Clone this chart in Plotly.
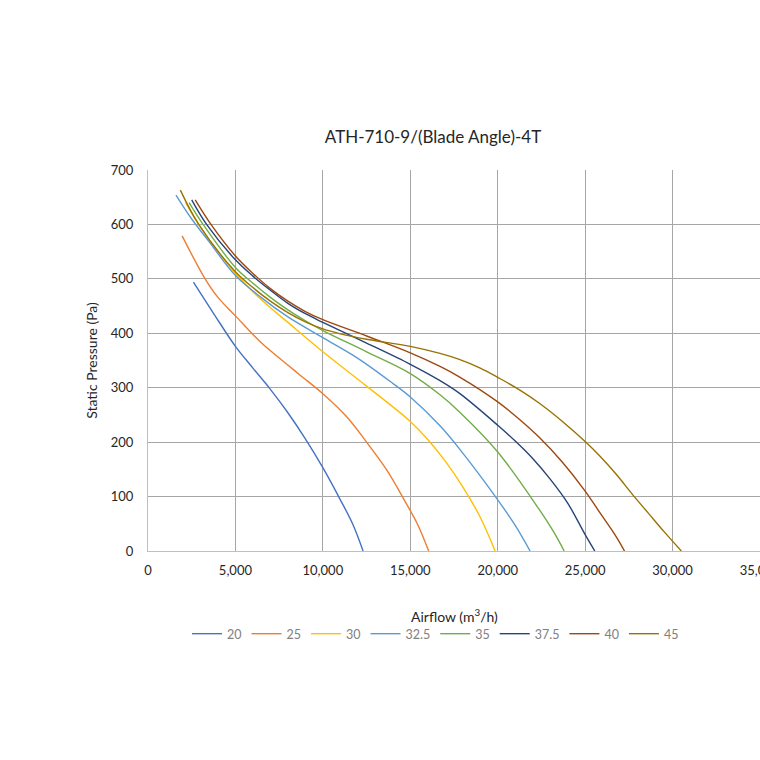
import plotly.graph_objects as go

# blade angle curves
angles = ["20", "25", "30", "32.5", "35", "37.5", "40", "45"]
colors = ["#4472C4", "#ED7D31", "#FFC000", "#5B9BD5", "#70AD47", "#264478", "#9E480E", "#997300"]

airflow_20 = [2600, 3800, 5000, 6000, 7000, 8000, 9000, 10000, 11000, 11700, 12300]
pressure_20 = [494, 434, 376, 336, 297, 254, 206, 153, 94, 50, 0]

airflow_25 = [1950, 3250, 4000, 5000, 6400, 8100, 8700, 10000, 11350, 12500, 13650, 14650, 15400, 16050]
pressure_25 = [579, 501, 466, 432, 385, 339, 323, 289, 247, 200, 149, 94, 50, 0]

airflow_30 = [2150, 3000, 4000, 5000, 6500, 8000, 10000, 12500, 15000, 16000, 17000, 18000, 19000, 19850]
pressure_30 = [640, 595, 550, 510, 461, 420, 366, 303, 238, 205, 165, 118, 62, 0]

airflow_325 = [1600, 2500, 3500, 5000, 6500, 8000, 10000, 12000, 14000, 15000, 16700, 17800, 20000, 21000, 21850]
pressure_325 = [654, 610, 568, 506, 465, 430, 392, 354, 308, 283, 230, 188, 94, 47, 0]

airflow_35 = [2350, 3150, 5000, 6000, 7000, 8000, 9000, 10000, 12500, 15000, 16700, 17800, 20000, 22400, 23200, 23800]
pressure_35 = [640, 600, 521, 492, 466, 443, 423, 405, 366, 326, 287, 256, 182, 75, 35, 0]

airflow_375 = [2500, 3350, 5000, 6000, 7000, 8000, 9000, 10000, 12500, 15000, 16700, 17800, 20000, 21000, 22000, 23000, 24000, 25000, 25550]
pressure_375 = [645, 600, 535, 505, 479, 455, 436, 420, 382, 343, 313, 290, 231, 202, 170, 132, 88, 30, 0]

airflow_40 = [2700, 3600, 5000, 6000, 7000, 8000, 9000, 10000, 12500, 15000, 16700, 17800, 20000, 21200, 22400, 23700, 25000, 25850, 26700, 27250]
pressure_40 = [645, 600, 542, 510, 482, 459, 440, 425, 395, 364, 339, 320, 274, 243, 208, 163, 110, 70, 30, 0]

airflow_45 = [1850, 2900, 5000, 6000, 7000, 8000, 9000, 10000, 11000, 12500, 15000, 16700, 17800, 19000, 20000,
              21200, 22400, 23700, 25000, 25850, 26800, 27700, 28600, 29500, 30500]
pressure_45 = [663, 600, 513, 484, 459, 438, 421, 408, 399, 389, 376, 363, 352, 336, 319,
               297, 271, 238, 201, 174, 140, 104, 70, 36, 0]

airflows = [airflow_20, airflow_25, airflow_30, airflow_325, airflow_35, airflow_375, airflow_40, airflow_45]
pressures = [pressure_20, pressure_25, pressure_30, pressure_325, pressure_35, pressure_375, pressure_40, pressure_45]

x_ticks = [0, 5000, 10000, 15000, 20000, 25000, 30000, 35000]
y_ticks = [0, 100, 200, 300, 400, 500, 600, 700]

font = "Lato, 'Open Sans', sans-serif"
grid = "#a6a6a6"

fig = go.Figure()
for name, col, xs, ys in zip(angles, colors, airflows, pressures):
    fig.add_trace(go.Scatter(x=xs, y=ys, name=name, mode="lines",
                             line=dict(color=col, width=1.4, shape="spline", smoothing=1)))

# the original chart is wider than the window and gets cut at 35,000,
# so the figure is 800px wide and the page hides what runs past 760px
fig.update_layout(
    template="none",
    width=800, height=760,
    margin=dict(l=148, r=5, t=170, b=209, autoexpand=False),
    paper_bgcolor="white", plot_bgcolor="white",
    font=dict(family=font, size=13, color="#262626"),
    title=dict(text="ATH-710-9/(Blade Angle)-4T", x=0.4405, xanchor="center",
               y=1 - 137 / 760, yanchor="middle", xref="paper",
               font=dict(size=17, color="#262626")),
    showlegend=True,
    legend=dict(orientation="h", x=0.4444, xanchor="center", y=-0.218, yanchor="middle",
                font=dict(size=12.5, color="#808080"), bgcolor="rgba(0,0,0,0)"),
    annotations=[dict(text="Airflow (m<sup>3</sup>/h)", xref="paper", yref="paper",
                      x=0.473, y=-0.168, xanchor="center", yanchor="middle",
                      showarrow=False, font=dict(size=14, color="#262626"))],
)
fig.update_xaxes(range=[0, 37000], tickvals=x_ticks, tickformat=",d",
                 showgrid=True, gridcolor=grid, gridwidth=1,
                 showline=True, linecolor="#bfbfbf", linewidth=1,
                 zeroline=False, ticks="", ticklabelstandoff=7, automargin=False)
fig.update_yaxes(range=[0, 700], tickvals=y_ticks,
                 showgrid=True, gridcolor=grid, gridwidth=1,
                 showline=True, linecolor="#bfbfbf", linewidth=1,
                 zeroline=False, ticks="", ticklabelstandoff=11, automargin=False,
                 title=dict(text="Static Pressure (Pa)", standoff=9, font=dict(size=14)))

# drop the default body margin so the figure starts at the window corner
fig.write_html("out.html", config={"displayModeBar": False},
               post_script="document.body.style.margin='0';document.body.style.overflow='hidden';")
